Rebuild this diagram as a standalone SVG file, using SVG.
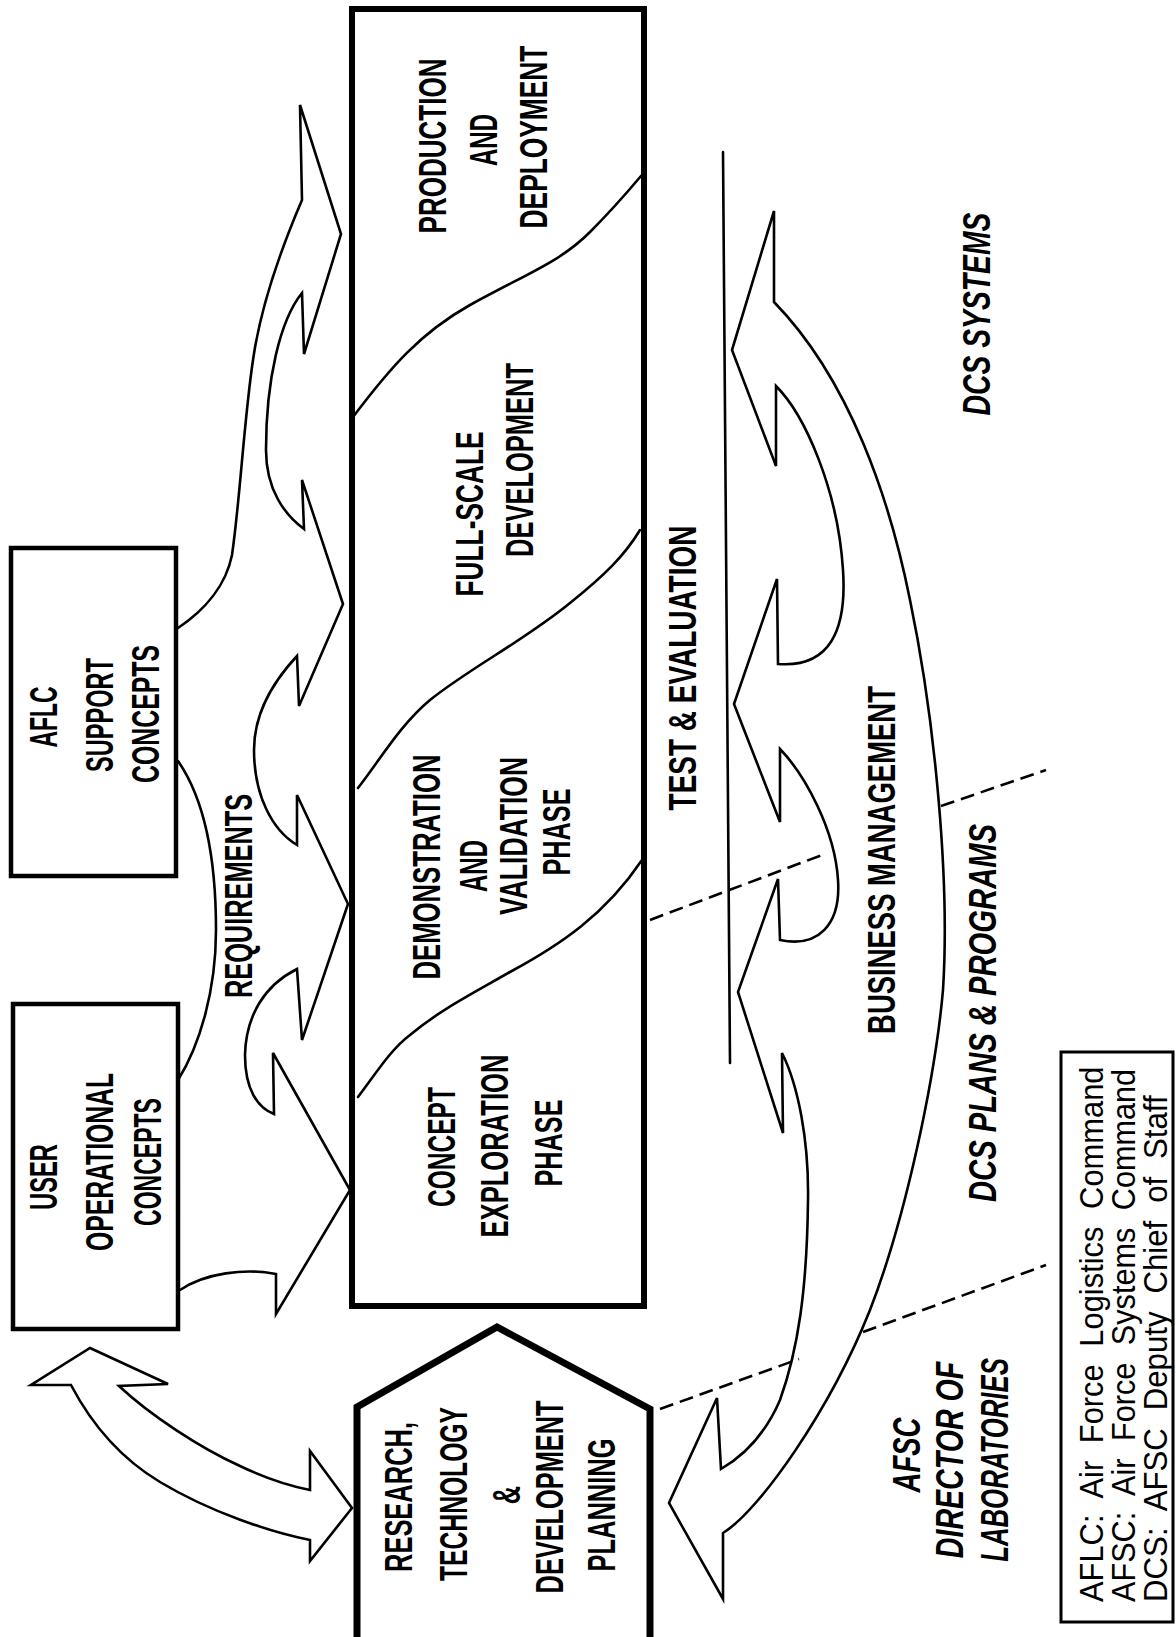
<svg xmlns="http://www.w3.org/2000/svg" width="1176" height="1637" viewBox="0 0 1176 1637">
<style>
  .bg { fill: #ffffff; }
  .heavy { fill: none; stroke: #000; stroke-width: 6; stroke-linejoin: miter; }
  .box { fill: none; stroke: #000; stroke-width: 4.5; }
  .thin { fill: none; stroke: #000; stroke-width: 2.6; stroke-linejoin: miter; stroke-linecap: round; }
  .dash { fill: none; stroke: #000; stroke-width: 2.6; stroke-dasharray: 14 7; }
  .lbl { font-family: "Liberation Sans", Arial, sans-serif; font-weight: bold; font-size: 38px; fill: #000; text-anchor: middle; }
  .ital { font-family: "Liberation Sans", Arial, sans-serif; font-style: italic; font-weight: bold; font-size: 38px; fill: #000; text-anchor: middle; }
  .italb { font-family: "Liberation Sans", Arial, sans-serif; font-style: italic; font-weight: bold; font-size: 38px; fill: #000; text-anchor: middle; }
  .leg { font-family: "Liberation Sans", Arial, sans-serif; font-size: 34px; word-spacing: 10px; fill: #000; text-anchor: start; }
</style>
<rect class="bg" x="0" y="0" width="1176" height="1637"/>

<!-- Main phases box -->
<g id="node-phases">
  <rect class="heavy" x="352" y="9" width="292" height="1297"/>
  <path class="thin" d="M353,417 C390,368 420,333 470,305 C530,272 560,262 590,232 C610,212 625,195 641,176"/>
  <path class="thin" d="M358,788 C380,760 400,725 430,700 C470,668 525,640 570,603 C605,575 625,555 640,530"/>
  <path class="thin" d="M358,1097 C375,1075 390,1050 410,1035 C440,1010 470,995 510,972 C560,945 605,915 642,860"/>
  <g id="phase-production">
    <text class="lbl" transform="translate(446,146) rotate(-90) scale(0.685,1)">PRODUCTION</text>
    <text class="lbl" transform="translate(497,140) rotate(-90) scale(0.632,1)">AND</text>
    <text class="lbl" transform="translate(547,137) rotate(-90) scale(0.693,1)">DEPLOYMENT</text>
  </g>
  <g id="phase-fsd">
    <text class="lbl" transform="translate(483,514) rotate(-90) scale(0.692,1)">FULL-SCALE</text>
    <text class="lbl" transform="translate(533,460) rotate(-90) scale(0.671,1)">DEVELOPMENT</text>
  </g>
  <g id="phase-dv">
    <text class="lbl" transform="translate(440,867) rotate(-90) scale(0.676,1)">DEMONSTRATION</text>
    <text class="lbl" transform="translate(487,866) rotate(-90) scale(0.632,1)">AND</text>
    <text class="lbl" transform="translate(527,836) rotate(-90) scale(0.698,1)">VALIDATION</text>
    <text class="lbl" transform="translate(570,832) rotate(-90) scale(0.665,1)">PHASE</text>
  </g>
  <g id="phase-ce">
    <text class="lbl" transform="translate(455,1147) rotate(-90) scale(0.646,1)">CONCEPT</text>
    <text class="lbl" transform="translate(508,1146) rotate(-90) scale(0.674,1)">EXPLORATION</text>
    <text class="lbl" transform="translate(562,1143) rotate(-90) scale(0.665,1)">PHASE</text>
  </g>
</g>

<!-- Research, Technology & Development Planning -->
<g id="node-rtdp">
  <path d="M357,1645 L357,1407 L497,1327 L650,1409 L650,1645" fill="none" stroke="#000" stroke-width="7" stroke-linejoin="miter"/>
  <text class="lbl" transform="translate(412,1497) rotate(-90) scale(0.670,1)">RESEARCH,</text>
  <text class="lbl" transform="translate(467,1494) rotate(-90) scale(0.649,1)">TECHNOLOGY</text>
  <text class="lbl" transform="translate(520,1495) rotate(-90) scale(0.67,1)">&amp;</text>
  <text class="lbl" transform="translate(563,1497) rotate(-90) scale(0.667,1)">DEVELOPMENT</text>
  <text class="lbl" transform="translate(615,1505) rotate(-90) scale(0.670,1)">PLANNING</text>
</g>

<!-- User operational concepts -->
<g id="node-user">
  <rect class="box" x="13" y="1004" width="165" height="325"/>
  <text class="lbl" transform="translate(57,1177) rotate(-90) scale(0.625,1)">USER</text>
  <text class="lbl" transform="translate(113,1162) rotate(-90) scale(0.651,1)">OPERATIONAL</text>
  <text class="lbl" transform="translate(161,1162) rotate(-90) scale(0.606,1)">CONCEPTS</text>
</g>

<!-- AFLC support concepts -->
<g id="node-aflc">
  <rect class="box" x="11" y="548" width="165" height="328"/>
  <text class="lbl" transform="translate(57,717) rotate(-90) scale(0.602,1)">AFLC</text>
  <text class="lbl" transform="translate(113,715) rotate(-90) scale(0.621,1)">SUPPORT</text>
  <text class="lbl" transform="translate(159,714) rotate(-90) scale(0.654,1)">CONCEPTS</text>
</g>

<!-- Connectors -->
<g id="connectors">
  <!-- requirements chain of arrows into the phases box -->
  <path id="req-chain" class="thin" d="M180,1290 C205,1273 245,1268 276,1274 L276,1314 L350,1190 L273,1053 L274,1114 C258,1108 245,1090 245,1055 C246,1015 265,985 297,969 L302,1040 L348,904 L297,795 L297,845 C272,830 254,795 254,750 C254,715 270,685 297,656 L299,706 L343,604 L302,480 L304,529 C285,515 266,490 266,450 C266,380 280,320 302,293 L304,354 L341,234 L300,105 L302,200 C272,270 259,318 253,360 C244,420 240,500 232,555 C226,585 205,610 178,628"/>
  <path id="req-bracket" class="thin" d="M178,1080 C200,1045 216,990 216,930 C216,860 205,800 178,761"/>
  <!-- double arrow user <-> RT&DP -->
  <path id="user-rtdp" class="thin" d="M90,1348 L168,1384 L119,1386 C150,1415 200,1448 240,1466 C265,1478 290,1486 310,1490 L310,1451 L352,1508 L310,1561 L310,1540 C270,1532 210,1512 160,1482 C120,1458 92,1425 71,1385 L31,1385 Z"/>
  <!-- test & evaluation line -->
  <line id="te-line" class="thin" x1="723" y1="152" x2="730" y2="1063"/>
  <!-- business management / DCS chain of arrows -->
  <path id="bm-chain" class="thin" d="M774,302 L774,211 L732,350 L776,466 L776,386 C805,415 838,490 843,570 C847,630 830,668 778,664 L777,579 L734,704 L780,822 L780,749 C805,775 835,830 838,880 C841,925 818,948 780,940 L778,879 L738,992 L783,1133 L782,1053 C798,1085 809,1140 808,1200 C807,1290 798,1350 780,1400 C765,1435 745,1455 721,1469 L717,1398 L669,1503 L723,1599 L723,1533 C760,1510 830,1410 870,1310 C905,1220 935,1080 943,990 C950,880 935,720 910,600 C890,500 850,380 774,302 Z"/>
  <!-- organisational boundaries -->
  <line class="dash" x1="650" y1="920" x2="822" y2="855"/>
  <line class="dash" x1="941" y1="806" x2="1046" y2="770"/>
  <line class="dash" x1="660" y1="1409" x2="799" y2="1359"/>
  <line class="dash" x1="863" y1="1332" x2="1046" y2="1265"/>
</g>

<!-- Free labels -->
<g id="labels">
  <text class="lbl" transform="translate(252,896) rotate(-90) scale(0.667,1)">REQUIREMENTS</text>
  <text class="lbl" transform="translate(696,668) rotate(-90) scale(0.736,1)">TEST &amp; EVALUATION</text>
  <text class="lbl" transform="translate(895,860) rotate(-90) scale(0.723,1)">BUSINESS MANAGEMENT</text>
  <text class="ital" transform="translate(990,314) rotate(-90) scale(0.745,1)">DCS SYSTEMS</text>
  <text class="ital" transform="translate(996,1013) rotate(-90) scale(0.769,1)">DCS PLANS &amp; PROGRAMS</text>
  <text class="italb" transform="translate(920,1455) rotate(-90) scale(0.725,1)">AFSC</text>
  <text class="italb" transform="translate(963,1460) rotate(-90) scale(0.752,1)">DIRECTOR OF</text>
  <text class="italb" transform="translate(1008,1460) rotate(-90) scale(0.678,1)">LABORATORIES</text>
</g>

<!-- Legend -->
<g id="node-legend">
  <rect x="1061" y="1052" width="112" height="570" fill="none" stroke="#000" stroke-width="3"/>
  <text class="leg" transform="translate(1103,1602) rotate(-90) scale(0.908,1)">AFLC: Air Force Logistics Command</text>
  <text class="leg" transform="translate(1135,1602) rotate(-90) scale(0.901,1)">AFSC: Air Force Systems Command</text>
  <text class="leg" transform="translate(1167,1602) rotate(-90) scale(0.918,1)">DCS: AFSC Deputy Chief of Staff</text>
</g>
</svg>
